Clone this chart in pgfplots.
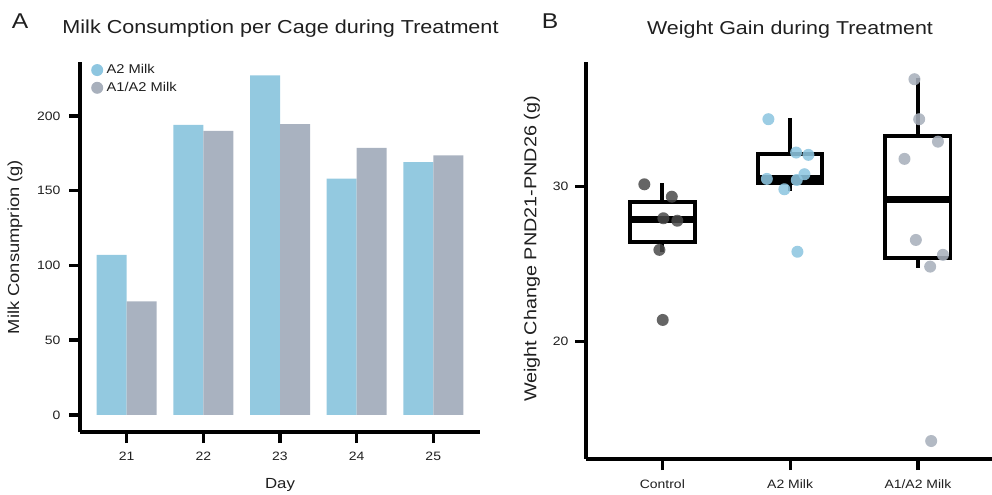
\documentclass[border=0pt]{standalone}
\usepackage{pgfplots}
\pgfplotsset{compat=1.18}
\usepackage{fontspec}
\setmainfont{Liberation Sans}[FakeStretch=1.15]
\definecolor{barblue}{HTML}{93C9E0}
\definecolor{bargray}{HTML}{A9B2C0}
\definecolor{dotctrl}{HTML}{4A4A4A}
\definecolor{dotblue}{HTML}{8EC6E0}
\definecolor{dotgray}{HTML}{A8B0BC}
\begin{document}
\begin{tikzpicture}
\pgfplotsset{
  myaxis/.style={
    scale only axis,
    anchor=south west,
    axis x line*=bottom, axis y line*=left,
    axis line style={line width=3.5bp,-},
    tick style={line width=3.5bp,black},
    major tick length=11bp,
    tick align=outside,
    /pgf/number format/assume math mode=true,
    tick label style={font=\fontsize{12.2}{14}\selectfont, text=black!88},
  },
  boxln/.style={draw=black, line width=3.8bp, line join=miter, line cap=rect, forget plot},
  medln/.style={draw=black, line width=7bp, line cap=butt, forget plot},
}
% Panel A
\begin{axis}[myaxis,
  at={(80bp,63bp)}, width=400bp, height=370bp,
  xmin=20.39, xmax=25.61, ymin=-11.4, ymax=236,
  xtick={21,22,23,24,25}, ytick={0,50,100,150,200},
  yticklabel style={xshift=-5bp},
  xticklabel style={yshift=-5bp},
  ybar, bar width=30bp,
  legend style={at={(0,1)}, anchor=north west, xshift=11bp, yshift=-1bp, draw=none, fill=none,
    font=\fontsize{12.8}{14}\selectfont, text=black!88, row sep=4bp, column sep=2bp, inner sep=0pt,
    nodes={inner sep=1.5bp}},
  legend cell align=left,
  legend image code/.code={\draw[#1] plot coordinates {(0bp,0bp)};},
]
\addplot[forget plot, fill=barblue, draw=none, bar shift=-15bp] coordinates {(21,107) (22,194) (23,227) (24,158) (25,169)};
\addplot[forget plot, fill=bargray, draw=none, bar shift=15bp] coordinates {(21,76) (22,190) (23,194.5) (24,178.5) (25,173.5)};
\addlegendimage{only marks, mark=*, mark size=6bp, mark options={fill=dotblue, draw opacity=0}}
\addlegendentry{A2 Milk}
\addlegendimage{only marks, mark=*, mark size=6bp, mark options={fill=dotgray, draw opacity=0}}
\addlegendentry{A1/A2 Milk}
\end{axis}
% Panel B
\begin{axis}[myaxis,
  at={(586bp,36bp)}, width=406bp, height=397bp,
  axis line style={line width=3.2bp,-},
  tick style={line width=3.2bp,black},
  xmin=0.4025, xmax=3.58, ymin=12.43, ymax=38.04,
  xtick={1,2,3}, xticklabels={Control, A2 Milk, A1/A2 Milk}, ytick={20,30},
  yticklabel style={xshift=-3bp},
  xticklabel style={yshift=-6bp},
]
% Control box
\addplot[boxln] coordinates {(0.745,26.45) (1.255,26.45) (1.255,29.03) (0.745,29.03) (0.745,26.45)};
\addplot[boxln] coordinates {(1,29.03) (1,30.1)};
\addplot[boxln] coordinates {(1,26.45) (1,25.92)};
\addplot[medln] coordinates {(0.745,27.85) (1.255,27.85)};
% A2 box
\addplot[boxln] coordinates {(1.75,30.24) (2.25,30.24) (2.25,32.1) (1.75,32.1) (1.75,30.24)};
\addplot[boxln] coordinates {(2,32.1) (2,34.3)};
\addplot[boxln] coordinates {(2,30.24) (2,29.83)};
\addplot[medln] coordinates {(1.75,30.5) (2.25,30.5)};
% A1/A2 box
\addplot[boxln] coordinates {(2.745,25.38) (3.255,25.38) (3.255,33.29) (2.745,33.29) (2.745,25.38)};
\addplot[boxln] coordinates {(3,33.29) (3,36.9)};
\addplot[boxln] coordinates {(3,25.38) (3,24.88)};
\addplot[medln] coordinates {(2.745,29.19) (3.255,29.19)};
% points
\addplot[only marks, mark=*, mark size=6bp, mark options={fill=dotctrl, fill opacity=0.85, draw opacity=0}] coordinates {
(0.859,30.15) (1.074,29.35) (1.008,27.96) (1.117,27.8) (0.977,25.92) (1.003,21.4)};
\addplot[only marks, mark=*, mark size=6bp, mark options={fill=dotblue, fill opacity=0.88, draw opacity=0}] coordinates {
(1.83,34.35) (2.047,32.2) (2.143,32.05) (1.818,30.5) (2.112,30.8) (2.052,30.43) (1.955,29.83) (2.057,25.8)};
\addplot[only marks, mark=*, mark size=6bp, mark options={fill=dotgray, fill opacity=0.88, draw opacity=0}] coordinates {
(2.973,36.93) (3.010,34.35) (3.157,32.9) (2.895,31.79) (2.984,26.56) (3.196,25.6) (3.096,24.84) (3.104,13.59)};
\end{axis}
% Titles and labels
\node[font=\fontsize{21.5}{24}\selectfont, text=black!88] at (20bp,474bp) {A};
\node[font=\fontsize{21.5}{24}\selectfont, text=black!88] at (550bp,474bp) {B};
\node[font=\fontsize{18.85}{22}\selectfont, text=black!88, anchor=base] at (280.5bp,461bp) {Milk Consumption per Cage during Treatment};
\node[font=\fontsize{18.7}{22}\selectfont, text=black!88, anchor=base] at (790bp,460bp) {Weight Gain during Treatment};
\node[font=\fontsize{16}{18}\selectfont, text=black!88, rotate=90] at (15bp,248bp) {Milk Consumprion (g)};
\node[font=\fontsize{17.3}{20}\selectfont, text=black!88, rotate=90] at (532bp,246bp) {Weight Change PND21-PND26 (g)};
\node[font=\fontsize{14.7}{17}\selectfont, text=black!88, anchor=base] at (280bp,7bp) {Day};
\pgfresetboundingbox
\path[use as bounding box] (0,0) rectangle (992bp,495bp);
\end{tikzpicture}
\end{document}
